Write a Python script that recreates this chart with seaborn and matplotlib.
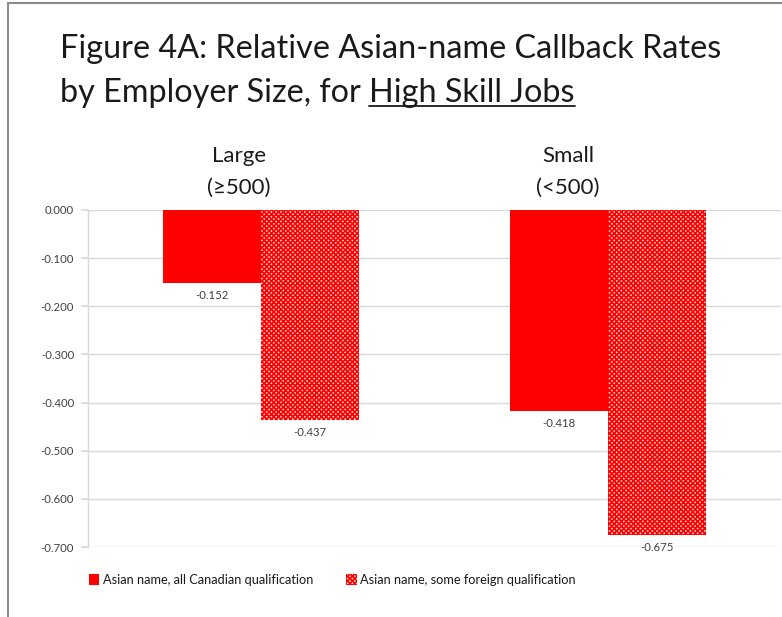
import matplotlib
matplotlib.use("Agg")
import matplotlib.pyplot as plt
import matplotlib.transforms as mtrans
import seaborn as sns
import pandas as pd
from matplotlib.patches import Rectangle
from matplotlib.lines import Line2D

sizes = ["Large\n(≥500)", "Small\n(<500)"]
series = ["Asian name, all Canadian qualification", "Asian name, some foreign qualification"]
canadian = [-0.152, -0.418]
foreign = [-0.437, -0.675]
yticks = [0.0, -0.1, -0.2, -0.3, -0.4, -0.5, -0.6, -0.7]

df = pd.DataFrame({
    "size": sizes * 2,
    "series": [series[0]] * 2 + [series[1]] * 2,
    "value": canadian + foreign,
})

sns.set_theme(style="white")
plt.rcParams["font.family"] = ["Lato", "DejaVu Sans"]
plt.rcParams["hatch.linewidth"] = 1.2
plt.rcParams["hatch.color"] = "#ff0000"

fig = plt.figure(figsize=(7.82, 6.17), dpi=100)
ax = fig.add_axes([88 / 782, 1 - 547 / 617, 693 / 782, 337 / 617])

red = "#ff0000"
sns.barplot(data=df, x="size", y="value", hue="series", order=sizes, hue_order=series,
            palette=[red, red], width=0.566, gap=0, ax=ax, legend=False,
            saturation=1, linewidth=0)

patches = ax.patches
for p in patches[2:4]:
    p.set_facecolor("#ffd6d6")
    p.set_hatch("xxxxxxx")
    p.set_edgecolor(red)
    p.set_linewidth(0)

ax.set_xlim(-0.5, 1.5)
ax.set_ylim(-0.7, 0.0)
ax.set_yticks(yticks)
ax.set_yticklabels([f"{v:.3f}" for v in yticks], fontsize=8.2, color="#404040")
ax.yaxis.grid(True, color="#d9d9d9", linewidth=1)
ax.set_axisbelow(True)
ax.tick_params(axis="y", length=5, color="#d9d9d9", pad=5, left=True)
ax.set_xticks([])
ax.set_xlabel("")
ax.set_ylabel("")
for s in ["top", "right", "bottom"]:
    ax.spines[s].set_visible(False)
ax.spines["left"].set_color("#d9d9d9")
ax.spines["left"].set_linewidth(1)

# value labels under bars
for p, v in zip(patches[:4], canadian + foreign):
    cx = p.get_x() + p.get_width() / 2
    ax.annotate(f"{v:.3f}", (cx, v), xytext=(0, -5), textcoords="offset points",
                ha="center", va="top", fontsize=8.2, color="#404040", annotation_clip=False)

# category labels at top
offs = mtrans.ScaledTranslation(0, 12 / 100, fig.dpi_scale_trans)
for x, lab in zip([-0.065, 0.885], sizes):
    ax.text(x, 0.0, lab, transform=ax.transData + offs, ha="center", va="bottom",
            fontsize=16, color="#1a1a1a", linespacing=1.72)

# title
TS = 23.3
fig.text(60 / 782, 1 - 49 / 617, "Figure 4A: Relative Asian-name Callback Rates",
         fontsize=TS, color="#1a1a1a", va="center", ha="left")
t1 = fig.text(60 / 782, 1 - 93 / 617, "by Employer Size, for ",
              fontsize=TS, color="#1a1a1a", va="center", ha="left")
fig.canvas.draw()
r = fig.canvas.get_renderer()
bb = t1.get_window_extent(r)
x2 = bb.x1 / fig.bbox.width
t2 = fig.text(x2, 1 - 93 / 617, "High Skill Jobs", fontsize=TS, color="#1a1a1a",
              va="center", ha="left")
bb2 = t2.get_window_extent(r)
uy = (bb2.y0 + 2) / fig.bbox.height
fig.add_artist(Line2D([bb2.x0 / fig.bbox.width, bb2.x1 / fig.bbox.width], [uy, uy],
                      transform=fig.transFigure, color="#1a1a1a", linewidth=1.3))

# legend
handles = [Rectangle((0, 0), 1, 1, facecolor=red, linewidth=0),
           Rectangle((0, 0), 1, 1, facecolor="#ffd6d6", hatch="xxxxxxx", edgecolor=red, linewidth=0)]
fig.legend(handles, series, loc="center left", bbox_to_anchor=(77 / 782, 1 - 580 / 617),
           ncol=2, frameon=False, fontsize=9.2, handlelength=0.85, handleheight=0.85,
           handletextpad=0.25, columnspacing=2.6, labelcolor="#1a1a1a")

# outer frame lines (top and left)
fig.add_artist(Line2D([8 / 782, 1], [1 - 3 / 617, 1 - 3 / 617], transform=fig.transFigure,
                      color="#8c8c8c", linewidth=1.5))
fig.add_artist(Line2D([8 / 782, 8 / 782], [0, 1 - 3 / 617], transform=fig.transFigure,
                      color="#8c8c8c", linewidth=1.5))

fig.savefig("out.png", dpi=100)
